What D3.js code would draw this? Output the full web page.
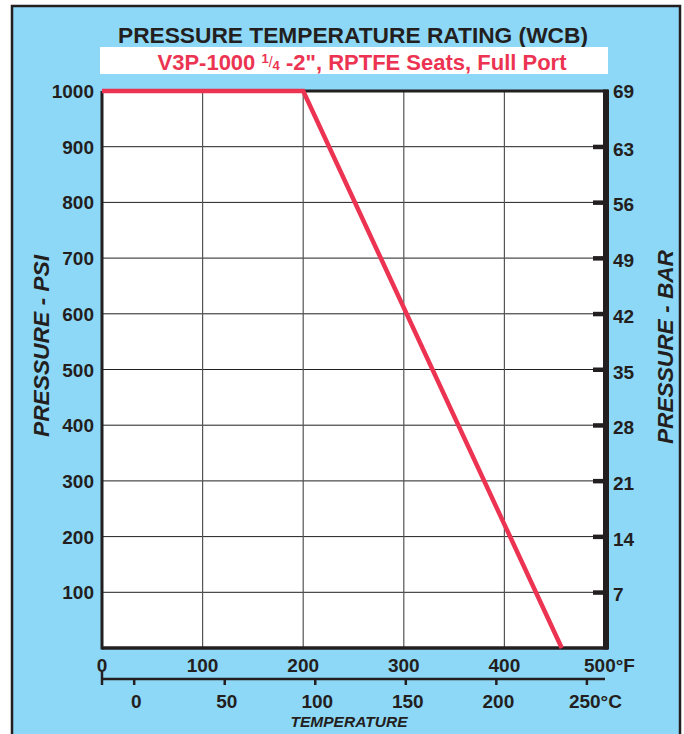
<!DOCTYPE html>
<html>
<head>
<meta charset="utf-8">
<script src="https://cdn.jsdelivr.net/npm/d3@7"></script>
<style>
  body { margin: 0; background: #fff; }
  text { font-family: "Liberation Sans", Arial, sans-serif; font-weight: bold; fill: #231f20; }
</style>
</head>
<body>
<svg id="chart" width="684" height="734"></svg>
<script>
'use strict';

// rating curve (deg F vs psi)
const curveTempF = [0, 200, 457];
const curvePsi = [1000, 1000, 0];

const psiTicks = [100, 200, 300, 400, 500, 600, 700, 800, 900, 1000];
const barLabels = ["7", "14", "21", "28", "35", "42", "49", "56", "63", "69"];
const fTicks = [0, 100, 200, 300, 400, 500];
const fLabels = ["0", "100", "200", "300", "400", "500°F"];
const cTicks = [0, 50, 100, 150, 200, 250];
const cLabels = ["0", "50", "100", "150", "200", "250°C"];

const blue = "#8ed8f7", red = "#ec3452", ink = "#231f20";

let svg = d3.select("#chart");

// panel
svg.append("rect").attr("x", 12).attr("y", 6).attr("width", 668).attr("height", 740)
  .attr("fill", blue).attr("stroke", ink).attr("stroke-width", 2.5);

svg.append("text").attr("x", 353).attr("y", 43).attr("text-anchor", "middle")
  .style("font-size", "22px").attr("textLength", 470).attr("lengthAdjust", "spacingAndGlyphs")
  .text("PRESSURE TEMPERATURE RATING (WCB)");

svg.append("rect").attr("x", 100).attr("y", 47).attr("width", 508).attr("height", 27).attr("fill", "#fff");

let sub = svg.append("text").attr("x", 362).attr("y", 70).attr("text-anchor", "middle")
  .style("font-size", "22px").style("fill", red);
sub.append("tspan").text("V3P-1000 ");
sub.append("tspan").attr("dy", -7).style("font-size", "13px").text("1");
sub.append("tspan").style("font-size", "14px").style("font-weight", "normal").attr("dy", 4).text("/");
sub.append("tspan").attr("dy", 3).style("font-size", "13px").text("4");
sub.append("tspan").attr("dy", 0).text(" -2\", RPTFE Seats, Full Port");

let x = d3.scaleLinear().domain([0, 500]).range([102, 605]);
let y = d3.scaleLinear().domain([0, 1000]).range([648, 91]);
let xc = function (c) { return x(c * 1.8 + 32); };

// plot area
svg.append("rect").attr("x", x(0)).attr("y", y(1000)).attr("width", x(500) - x(0)).attr("height", y(0) - y(1000))
  .attr("fill", "#fff");

// grid
svg.append("g").selectAll("line").data(psiTicks.slice(0, -1)).enter().append("line")
  .attr("x1", x(0)).attr("x2", x(500)).attr("y1", d => y(d)).attr("y2", d => y(d))
  .attr("stroke", ink).attr("stroke-width", 1);
svg.append("g").selectAll("line").data(fTicks.slice(1, -1)).enter().append("line")
  .attr("x1", d => x(d)).attr("x2", d => x(d)).attr("y1", y(0)).attr("y2", y(1000))
  .attr("stroke", "#555").attr("stroke-width", 1.2);

// frame
svg.append("line").attr("x1", x(0)).attr("x2", x(500) + 3).attr("y1", y(1000)).attr("y2", y(1000))
  .attr("stroke", ink).attr("stroke-width", 3);
svg.append("line").attr("x1", x(0)).attr("x2", x(500) + 3).attr("y1", y(0)).attr("y2", y(0))
  .attr("stroke", ink).attr("stroke-width", 3.5);
svg.append("line").attr("x1", x(0)).attr("x2", x(0)).attr("y1", y(1000)).attr("y2", y(0) + 1.5)
  .attr("stroke", ink).attr("stroke-width", 3);
svg.append("line").attr("x1", x(500) + 1).attr("x2", x(500) + 1).attr("y1", y(1000) - 1.5).attr("y2", y(0) + 1.5)
  .attr("stroke", ink).attr("stroke-width", 6);

// bar ticks on right axis
svg.append("g").selectAll("rect").data(psiTicks.slice(0, -1)).enter().append("rect")
  .attr("x", x(500) - 12).attr("y", d => y(d) - 2).attr("width", 12).attr("height", 4.5).attr("fill", ink);

// left labels psi
svg.append("g").selectAll("text").data(psiTicks).enter().append("text")
  .attr("x", 94).attr("y", d => y(d) + 7).attr("text-anchor", "end")
  .style("font-size", "19px").text(d => d);

// right labels bar
svg.append("g").selectAll("text").data(psiTicks).enter().append("text")
  .attr("x", 613).attr("y", (d, i) => y(d) + (i === 9 ? 7 : 9)).style("font-size", "19px")
  .text((d, i) => barLabels[i]);

// rating curve
let line = d3.line().x(d => x(d[0])).y(d => y(d[1]));
svg.append("path").datum(curveTempF.map((t, i) => [t, curvePsi[i]]))
  .attr("d", line).attr("fill", "none").attr("stroke", red).attr("stroke-width", 4.5)
  .attr("stroke-linejoin", "miter");

// F labels
svg.append("g").selectAll("text").data(fTicks).enter().append("text")
  .attr("x", d => x(d)).attr("y", 672)
  .attr("text-anchor", (d, i) => i === 5 ? "start" : "middle")
  .attr("dx", (d, i) => i === 5 ? -21 : 0)
  .style("font-size", "19px").text((d, i) => fLabels[i]);

// C axis
svg.append("line").attr("x1", x(0)).attr("x2", x(500)).attr("y1", 679).attr("y2", 679)
  .attr("stroke", ink).attr("stroke-width", 2.5);
svg.append("line").attr("x1", x(0)).attr("x2", x(0)).attr("y1", 672).attr("y2", 685)
  .attr("stroke", ink).attr("stroke-width", 2.5);
svg.append("g").selectAll("line").data(cTicks).enter().append("line")
  .attr("x1", d => xc(d)).attr("x2", d => xc(d)).attr("y1", 679).attr("y2", 685)
  .attr("stroke", ink).attr("stroke-width", 2.5);
svg.append("g").selectAll("text").data(cTicks).enter().append("text")
  .attr("x", d => xc(d) + 2).attr("y", 708)
  .attr("text-anchor", (d, i) => i === 5 ? "start" : "middle")
  .attr("dx", (d, i) => i === 5 ? -20 : 0)
  .style("font-size", "19px").text((d, i) => cLabels[i]);

svg.append("text").attr("x", 349).attr("y", 727).attr("text-anchor", "middle")
  .style("font-size", "14px").style("font-style", "italic")
  .attr("textLength", 117).attr("lengthAdjust", "spacingAndGlyphs").text("TEMPERATURE");

// axis titles
svg.append("text").attr("transform", "translate(49,346) rotate(-90)").attr("text-anchor", "middle")
  .style("font-size", "22px").style("font-style", "italic")
  .attr("textLength", 182).attr("lengthAdjust", "spacingAndGlyphs").text("PRESSURE - PSI");
svg.append("text").attr("transform", "translate(673,347) rotate(-90)").attr("text-anchor", "middle")
  .style("font-size", "22px").style("font-style", "italic")
  .attr("textLength", 194).attr("lengthAdjust", "spacingAndGlyphs").text("PRESSURE - BAR");
</script>
</body>
</html>
